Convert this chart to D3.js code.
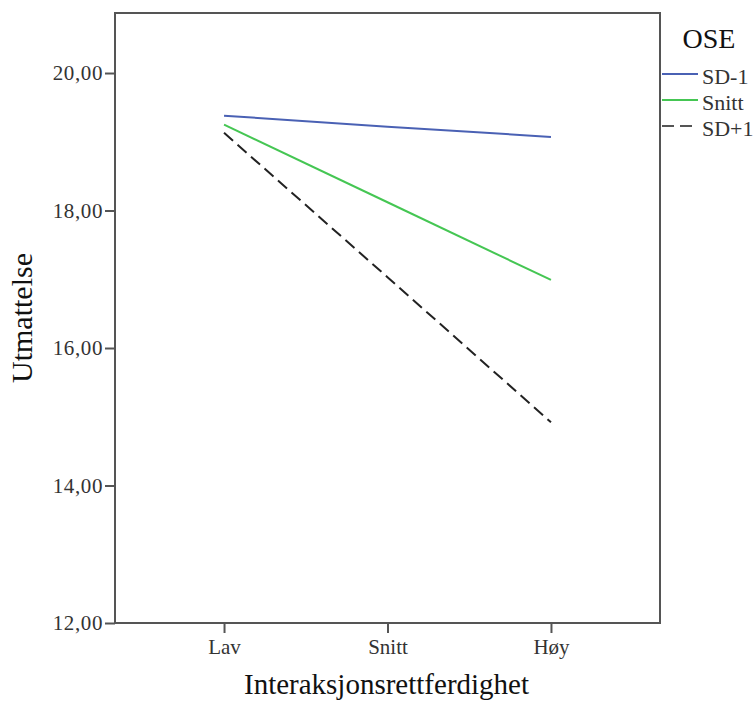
<!doctype html>
<meta charset="utf-8">
<title>Utmattelse</title>
<style>
body { margin: 0; background: #fff; }
svg text { font-family: "Liberation Serif", "Times New Roman", serif; }
</style>
<script src="https://cdn.jsdelivr.net/npm/d3@7"></script>
<body>
<script>
// categories on the x axis
var categories = ["Lav", "Snitt", "Høy"];
// series (OSE levels) and their values
var seriesNames = ["SD-1", "Snitt", "SD+1"];
var sdMinus = [19.38, 19.22, 19.07];
var snitt = [19.25, 18.12, 16.99];
var sdPlus = [19.13, 17.03, 14.92];
var yTicks = [12, 14, 16, 18, 20];

var colors = ["#4a61b4", "#45c653", "#222222"];
var dashes = [null, null, "12,6"];
var seriesValues = [sdMinus, snitt, sdPlus];

var W = 755, H = 702;
var plotL = 115, plotR = 660, plotT = 13, plotB = 623;

var svg = d3.select("body").append("svg")
    .attr("width", W).attr("height", H);

var x = d3.scalePoint().domain(categories).range([plotL, plotR]).padding(0.667);
var y = d3.scaleLinear().domain([12, 20.873]).range([plotB, plotT]);

// frame
svg.append("rect")
    .attr("x", plotL).attr("y", plotT)
    .attr("width", plotR - plotL).attr("height", plotB - plotT)
    .attr("fill", "none").attr("stroke", "#555").attr("stroke-width", 2);

// y axis
var yAxis = svg.append("g")
    .attr("transform", "translate(" + plotL + ",0)")
    .call(d3.axisLeft(y).tickValues(yTicks).tickSize(10).tickPadding(2)
      .tickFormat(function(d) { return d3.format(".2f")(d).replace(".", ","); }));
yAxis.select(".domain").remove();
yAxis.selectAll("line").attr("stroke", "#555").attr("stroke-width", 2);
yAxis.selectAll("text").attr("font-size", 21).attr("letter-spacing", 0.6).attr("fill", "#333");

// x axis
var xAxis = svg.append("g")
    .attr("transform", "translate(0," + plotB + ")")
    .call(d3.axisBottom(x).tickSize(10).tickPadding(6));
xAxis.select(".domain").remove();
xAxis.selectAll("line").attr("stroke", "#555").attr("stroke-width", 2);
xAxis.selectAll("text").attr("font-size", 21).attr("fill", "#333");

// axis titles
svg.append("text")
    .attr("x", (plotL + plotR) / 2 - 1).attr("y", 694)
    .attr("text-anchor", "middle").attr("font-size", 29).attr("fill", "#111")
    .text("Interaksjonsrettferdighet");

svg.append("text")
    .attr("transform", "translate(32," + ((plotT + plotB) / 2) + ") rotate(-90)")
    .attr("text-anchor", "middle").attr("font-size", 30).attr("fill", "#111")
    .text("Utmattelse");

// lines
var line = d3.line()
    .x(function(d, i) { return x(categories[i]); })
    .y(function(d) { return y(d); });

seriesValues.forEach(function(vals, k) {
  svg.append("path")
      .datum(vals)
      .attr("d", line)
      .attr("fill", "none")
      .attr("stroke", colors[k])
      .attr("stroke-width", 2)
      .attr("stroke-dasharray", dashes[k]);
});

// legend
svg.append("text")
    .attr("x", 709).attr("y", 48)
    .attr("text-anchor", "middle").attr("font-size", 28).attr("fill", "#111")
    .text("OSE");

var legendY = [74, 100, 126];
seriesNames.forEach(function(name, k) {
  svg.append("line")
      .attr("x1", 662).attr("x2", 698)
      .attr("y1", legendY[k]).attr("y2", legendY[k])
      .attr("stroke", k == 2 ? "#555" : colors[k])
      .attr("stroke-width", 2)
      .attr("stroke-dasharray", k == 2 ? "12,6" : null);
  svg.append("text")
      .attr("x", 702).attr("y", legendY[k] + 10)
      .attr("font-size", 22).attr("fill", "#333")
      .text(name);
});
</script>
</body>
